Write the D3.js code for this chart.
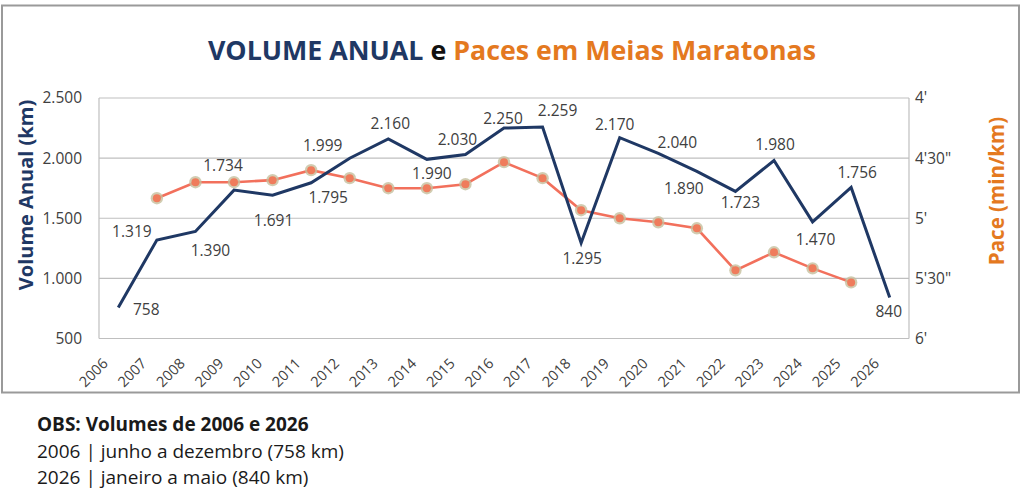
<!DOCTYPE html>
<html><head><meta charset="utf-8">
<script src="https://cdn.jsdelivr.net/npm/d3@7"></script>
<style>
body{margin:0;background:#fff;}
svg{display:block;font-family:"Open Sans",sans-serif;}
</style></head>
<body><svg id="c" width="1024" height="490"></svg>
<script>
const years = ["2006","2007","2008","2009","2010","2011","2012","2013","2014","2015","2016","2017","2018","2019","2020","2021","2022","2023","2024","2025","2026"];
const volume = [758,1319,1390,1734,1691,1795,1999,2160,1990,2030,2250,2259,1295,2170,2040,1890,1723,1980,1470,1756,840];
// pace in seconds per km (null = no half marathon)
const pace = [null,290,282,282,281,276,280,285,285,283,272,280,296,300,302,305,326,317,325,332,null];
const volTicks = [500,1000,1500,2000,2500];
const paceTicks = [240,270,300,330,360];
const paceTickLabels = ["4'","4'30\"","5'","5'30\"","6'"];
const notes = ["2006 | junho a dezembro (758 km)","2026 | janeiro a maio (840 km)"];
// label placement offsets (dx, dy) relative to each volume point
const labelOffsets = [[28,1.5],[-25,-9],[15,19],[-11,-25],[1,25],[17,14],[-27,-13],[2,-16],[5,14],[-8,-16],[-1,-10],[15,-17],[1,15],[-5,-14],[19,-11],[-13,17],[5,11],[1,-17],[3,17],[6,-15],[-1,13]];

const svg = d3.select("#c");
const L=99,R=909,T=98,B=338.5;
const navy="#1f3864", orange="#e4791f", salmon="#f2705c", txt="#404040";

svg.append("rect").attr("x",2).attr("y",5.5).attr("width",1017).attr("height",387)
  .attr("fill","#fff").attr("stroke","#9a9a9a").attr("stroke-width",2);

const x = d3.scalePoint().domain(years).range([L,R]).padding(0.5);
const y = d3.scaleLinear().domain([500,2500]).range([B,T]);
const yp = d3.scaleLinear().domain([240,360]).range([T,B]);

// gridlines
svg.append("g").selectAll("line").data(volTicks).join("line")
  .attr("x1",L).attr("x2",R).attr("y1",d=>y(d)).attr("y2",d=>y(d))
  .attr("stroke","#bfbfbf").attr("stroke-width",1.2);
svg.append("g").selectAll("line").data([L,R]).join("line")
  .attr("x1",d=>d).attr("x2",d=>d).attr("y1",T).attr("y2",B)
  .attr("stroke","#bfbfbf").attr("stroke-width",1.2);

// left axis
const ax = svg.append("g").attr("transform",`translate(${L},0)`)
  .call(d3.axisLeft(y).tickValues(volTicks).tickSize(0).tickPadding(17)
  .tickFormat(d=>d3.format(",")(d).replace(",",".")));
ax.select(".domain").remove();
ax.selectAll("text").attr("font-size",15.5).attr("fill",txt).attr("font-family","Open Sans");

// right axis
const axr = svg.append("g").attr("transform",`translate(${R},0)`)
  .call(d3.axisRight(yp).tickValues(paceTicks).tickSize(0).tickPadding(6)
  .tickFormat((d,i)=>paceTickLabels[i]));
axr.select(".domain").remove();
axr.selectAll("text").attr("font-size",15.5).attr("fill",txt).attr("font-family","Open Sans");

// bottom axis labels
const axb = svg.append("g").attr("transform",`translate(0,${B})`)
  .call(d3.axisBottom(x).tickSize(0));
axb.select(".domain").remove();
axb.selectAll("text").attr("font-size",14.5).attr("fill",txt).attr("font-family","Open Sans")
  .attr("text-anchor","end").attr("dy",null).attr("y",0)
  .attr("transform","translate(-10,26) rotate(-45)");

// pace line
const pts = years.map((yr,i)=>({yr,v:pace[i]})).filter(d=>d.v!=null);
svg.append("path").datum(pts)
  .attr("d",d3.line().x(d=>x(d.yr)).y(d=>yp(d.v)))
  .attr("fill","none").attr("stroke",salmon).attr("stroke-width",2.6);
const mk = svg.append("g").selectAll("g").data(pts).join("g")
  .attr("transform",d=>`translate(${x(d.yr)},${yp(d.v)})`);
mk.append("circle").attr("r",6.2).attr("fill","#c6bf9e").attr("opacity",0.8);
mk.append("circle").attr("r",4).attr("fill","#ef7c5c");

// volume line
const vp = years.map((yr,i)=>({yr,v:volume[i],i}));
svg.append("path").datum(vp)
  .attr("d",d3.line().x(d=>x(d.yr)).y(d=>y(d.v)))
  .attr("fill","none").attr("stroke",navy).attr("stroke-width",3).attr("stroke-linejoin","miter");

// data labels
svg.append("g").selectAll("text").data(vp).join("text")
  .attr("x",d=>x(d.yr)+labelOffsets[d.i][0]).attr("y",d=>y(d.v)+labelOffsets[d.i][1])
  .attr("text-anchor","middle").attr("dominant-baseline","central")
  .attr("font-size",15.5).attr("fill",txt)
  .text(d=>d3.format(",")(d.v).replace(",","."));

// title
const t = svg.append("text").attr("x",512).attr("y",60).attr("text-anchor","middle")
  .attr("font-size",26.8).attr("font-weight",700);
t.append("tspan").attr("fill",navy).text("VOLUME ANUAL");
t.append("tspan").attr("fill","#111").text(" e ");
t.append("tspan").attr("fill",orange).text("Paces em Meias Maratonas");

// axis titles
svg.append("text").attr("transform","translate(33,195) rotate(-90)").attr("text-anchor","middle")
  .attr("font-size",20).attr("font-weight",700).attr("fill",navy).text("Volume Anual (km)");
svg.append("text").attr("transform","translate(1004,191) rotate(-90)").attr("text-anchor","middle")
  .attr("font-size",20.5).attr("font-weight",700).attr("fill",orange).text("Pace (min/km)");

// notes
svg.append("text").attr("x",37).attr("y",431).attr("font-size",19).attr("font-weight",700)
  .attr("fill","#1a1a1a").text("OBS: Volumes de 2006 e 2026");
svg.append("g").selectAll("text").data(notes).join("text")
  .attr("x",37).attr("y",(d,i)=>458+i*26).attr("font-size",19).attr("fill","#1a1a1a").text(d=>d);
</script></body></html>
